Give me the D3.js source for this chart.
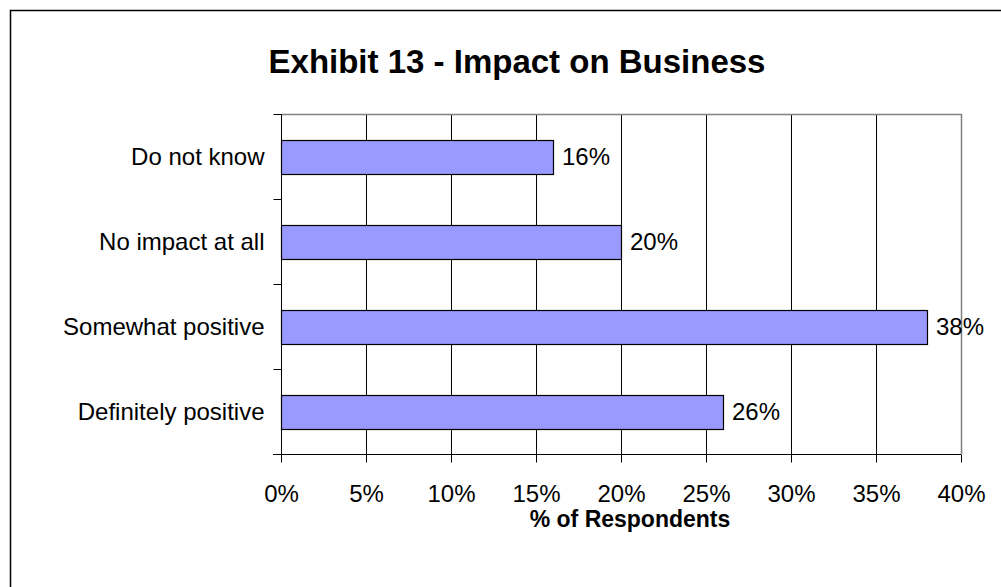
<!DOCTYPE html>
<html>
<head>
<meta charset="utf-8">
<script src="https://cdn.jsdelivr.net/npm/d3@7"></script>
<style>
  body { margin: 0; background: #fff; }
  svg { display: block; font-family: "Liberation Sans", Arial, sans-serif; }
</style>
</head>
<body>
<div id="chart"></div>
<script>
// chart data
const categories = ["Do not know", "No impact at all", "Somewhat positive", "Definitely positive"];
const values = [16, 20, 38, 26];
const xTicks = [0, 5, 10, 15, 20, 25, 30, 35, 40];
const title = "Exhibit 13 - Impact on Business";
const xTitle = "% of Respondents";

const width = 1001;
const height = 587;
const plot = { left: 281, top: 114, right: 961, bottom: 454 };
const labelSize = "24px";

const svg = d3.select("#chart")
    .append("svg")
    .attr("width", width)
    .attr("height", height);

// outer frame (runs off the right and bottom edges)
svg.append("rect")
    .attr("x", 10.5).attr("y", 10.5)
    .attr("width", 1100).attr("height", 1000)
    .attr("fill", "none")
    .attr("stroke", "#000")
    .attr("stroke-width", 1.5);

const x = d3.scaleLinear().domain([0, 40]).range([plot.left, plot.right]);
const y = d3.scaleBand().domain(categories).range([plot.top, plot.bottom]).paddingInner(0.6).paddingOuter(0.3);
const yEdges = d3.scaleBand().domain(categories).range([plot.top, plot.bottom]);

// title
svg.append("text")
    .attr("x", 517).attr("y", 73)
    .attr("text-anchor", "middle")
    .attr("font-size", "33px")
    .attr("font-weight", "bold")
    .text(title);

// gridlines
svg.append("g")
    .selectAll("line")
    .data(xTicks.slice(1, -1))
    .join("line")
    .attr("x1", d => Math.round(x(d)) + 0.5)
    .attr("x2", d => Math.round(x(d)) + 0.5)
    .attr("y1", plot.top).attr("y2", plot.bottom)
    .attr("stroke", "#000")
    .attr("stroke-width", 1);

// plot border top/right
svg.append("path")
    .attr("d", `M${plot.left},${plot.top + 0.5}H${plot.right + 0.5}V${plot.bottom}`)
    .attr("fill", "none")
    .attr("stroke", "#808080")
    .attr("stroke-width", 1.5);

// bars
svg.append("g")
    .selectAll("rect")
    .data(values)
    .join("rect")
    .attr("x", x(0) + 0.5)
    .attr("y", (d, i) => Math.round(y(categories[i])) + 0.5)
    .attr("width", d => x(d) - x(0))
    .attr("height", Math.round(y.bandwidth()))
    .attr("fill", "#9999ff")
    .attr("stroke", "#000")
    .attr("stroke-width", 1.2);

// value labels
svg.append("g")
    .selectAll("text")
    .data(values)
    .join("text")
    .attr("x", d => x(d) + 9)
    .attr("y", (d, i) => y(categories[i]) + y.bandwidth() / 2)
    .attr("dy", "0.35em")
    .attr("font-size", labelSize)
    .text(d => d + "%");

// x axis
const xAxis = svg.append("g")
    .attr("transform", `translate(0,${plot.bottom + 0.5})`)
    .call(d3.axisBottom(x).tickValues(xTicks).tickSize(8).tickPadding(22).tickFormat(d => d + "%"));
xAxis.select(".domain").remove();
xAxis.append("line")
    .attr("x1", plot.left - 8).attr("x2", plot.right)
    .attr("stroke", "#000");
xAxis.selectAll(".tick line").attr("stroke", "#000");
xAxis.selectAll(".tick text")
    .attr("font-size", labelSize)
    .attr("font-family", "Liberation Sans, Arial, sans-serif")
    .attr("fill", "#000");

// y axis
const yAxis = svg.append("g")
    .attr("transform", `translate(${plot.left + 0.5},0)`);
yAxis.append("line")
    .attr("y1", plot.top).attr("y2", plot.bottom + 8)
    .attr("stroke", "#000");
yAxis.selectAll("line.tick")
    .data(categories)
    .join("line")
    .attr("class", "tick")
    .attr("x1", -8).attr("x2", 0)
    .attr("y1", d => Math.round(yEdges(d)) + 0.5)
    .attr("y2", d => Math.round(yEdges(d)) + 0.5)
    .attr("stroke", "#000");
yAxis.selectAll("text")
    .data(categories)
    .join("text")
    .attr("x", -17)
    .attr("y", d => y(d) + y.bandwidth() / 2)
    .attr("dy", "0.35em")
    .attr("text-anchor", "end")
    .attr("font-size", labelSize)
    .text(d => d);

// x axis title
svg.append("text")
    .attr("x", 630)
    .attr("y", 527)
    .attr("text-anchor", "middle")
    .attr("font-size", "23px")
    .attr("font-weight", "bold")
    .text(xTitle);
</script>
</body>
</html>
